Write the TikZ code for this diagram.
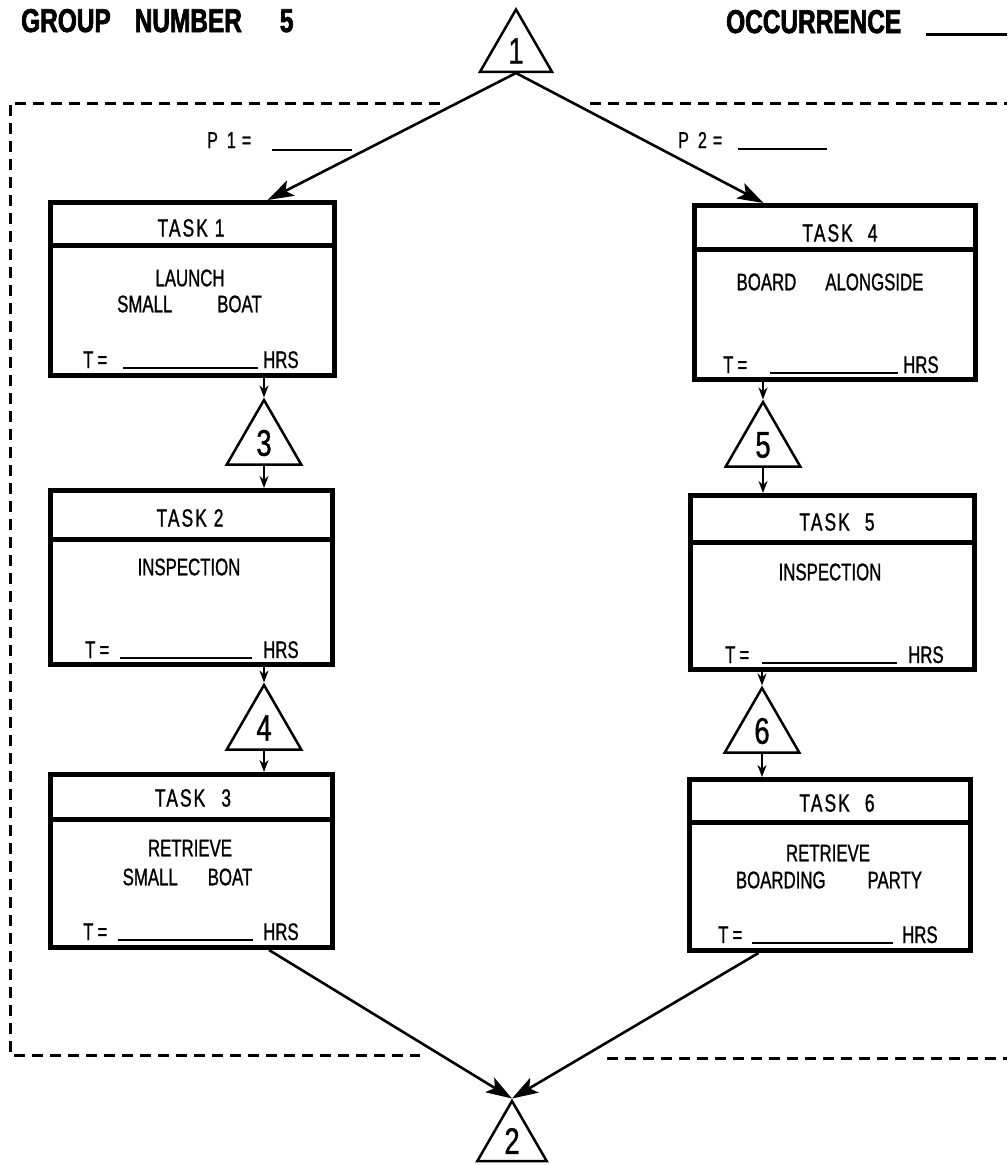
\documentclass[tikz,border=0pt]{standalone}
\usepackage{fontspec}
\usetikzlibrary{shapes.geometric,arrows.meta,calc}
\newfontfamily\condfont[FakeStretch=0.70,FakeBold=1]{Liberation Sans}
\newfontfamily\hdrfont[FakeStretch=0.70,FakeBold=1,LetterSpace=8]{Liberation Sans}
\newfontfamily\digfont[FakeStretch=0.74,FakeBold=1]{Liberation Sans}
\newfontfamily\titlefont[FakeStretch=0.74,FakeBold=2]{Liberation Sans}
\tikzset{
  taskbox/.style={draw, rectangle, line width=5pt, inner sep=0pt},
  divider/.style={line width=4.5pt},
  tri/.style={draw, regular polygon, regular polygon sides=3, line width=2.5pt, inner sep=0pt, minimum size=86pt, font=\digfont\fontsize{37}{37}\selectfont},
  conn/.style={line width=2.6pt, -{Stealth[length=26pt,width=17pt,inset=6pt]}},
  vconn/.style={line width=2.4pt, -{Stealth[length=12pt,width=9pt]}},
  dframe/.style={line width=3pt, dash pattern=on 11pt off 7pt},
  hdr/.style={font=\hdrfont\fontsize{25}{25}\selectfont, inner sep=0pt},
  body/.style={font=\condfont\fontsize{24}{24}\selectfont, inner sep=0pt},
  tl/.style={font=\condfont\fontsize{24}{24}\selectfont, inner sep=0pt, anchor=base west},
  ttl/.style={font=\titlefont\bfseries\fontsize{33}{33}\selectfont, inner sep=0pt, anchor=base west},
  uline/.style={line width=2pt}
}
\newcommand\tline[6]{%
  \node[tl] (#1T) at (#2,#6) {T\hspace{4pt}=};
  \draw[uline] (#3,#6) -- (#4,#6);
  \node[tl] (#1H) at (#5,#6) {HRS};}
\begin{document}
\begin{tikzpicture}[x=1pt,y=-1pt]
\useasboundingbox (0,0) rectangle (1007,1165);
\fill[white] (0,0) rectangle (1007,1165);

% titles
\node[ttl] (grp) at (21,32) {GROUP\hspace{24pt}NUMBER\hspace{38pt}5};
\node[ttl] (occ) at (726,33) {OCCURRENCE};
\draw[line width=3pt] (926,34) -- (1007,34);

% dashed frame
\draw[dframe] (440,103) -- (10,103) -- (10,1055) -- (420,1055);
\draw[dframe] (590,103) -- (1007,103);
\draw[dframe] (607,1058) -- (1007,1058);

% triangles
\node[tri, minimum size=83pt] (n1) at (516,51) {1};
\node[tri] (n3) at (264,443) {3};
\node[tri] (n4) at (264,728) {4};
\node[tri] (n5) at (763,445) {5};
\node[tri] (n6) at (762,731) {6};
\node[tri, minimum size=80pt] (n2) at (512,1141) {2};

% probabilities
\node[tl, font=\condfont\fontsize{23}{23}\selectfont] (p1) at (207,148) {P\hspace{9pt}1\hspace{6pt}=};
\draw[uline] (272,150) -- (352,150);
\node[tl, font=\condfont\fontsize{23}{23}\selectfont] (p2) at (678,148) {P\hspace{9pt}2\hspace{6pt}=};
\draw[uline] (738,149) -- (827,149);

% task boxes
\node[taskbox, minimum width=284pt, minimum height=173pt] (t1) at (192.5,289) {};
\draw[divider] ([yshift=-45.5pt]t1.north west) -- ([yshift=-45.5pt]t1.north east);
\node[hdr] (t1h) at (191,228) {TASK 1};
\node[body] (t1a) at (190,278) {LAUNCH};
\node[body] (t1b) at (189.5,304) {SMALL\hspace{45pt}BOAT};
\tline{t1}{83}{123}{258}{263}{368}

\node[taskbox, minimum width=282pt, minimum height=174pt] (t2) at (191.5,577.5) {};
\draw[divider] ([yshift=-51.5pt]t2.north west) -- ([yshift=-51.5pt]t2.north east);
\node[hdr] (t2h) at (190,518) {TASK 2};
\node[body] (t2a) at (189,567) {INSPECTION};
\tline{t2}{85}{120}{252}{263}{658}

\node[taskbox, minimum width=282pt, minimum height=173pt] (t3) at (191.5,861) {};
\draw[divider] ([yshift=-47.5pt]t3.north west) -- ([yshift=-47.5pt]t3.north east);
\node[hdr] (t3h) at (193,798) {TASK\hspace{16pt}3};
\node[body] (t3a) at (190,848) {RETRIEVE};
\node[body] (t3b) at (187.5,877) {SMALL\hspace{30pt}BOAT};
\tline{t3}{83}{118}{253}{263}{940}

\node[taskbox, minimum width=281pt, minimum height=174pt] (t4) at (835,292.5) {};
\draw[divider] ([yshift=-46.5pt]t4.north west) -- ([yshift=-46.5pt]t4.north east);
\node[hdr] (t4h) at (840,233) {TASK\hspace{15pt}4};
\node[body] (t4a) at (830,282) {BOARD\hspace{29pt}ALONGSIDE};
\tline{t4}{723}{770}{898}{903}{373}

\node[taskbox, minimum width=284pt, minimum height=174pt] (t5) at (832.5,582.5) {};
\draw[divider] ([yshift=-49.5pt]t5.north west) -- ([yshift=-49.5pt]t5.north east);
\node[hdr] (t5h) at (837,522) {TASK\hspace{15pt}5};
\node[body] (t5a) at (830,572) {INSPECTION};
\tline{t5}{725}{762}{897}{908}{663}

\node[taskbox, minimum width=281pt, minimum height=171pt] (t6) at (830,865) {};
\draw[divider] ([yshift=-45.5pt]t6.north west) -- ([yshift=-45.5pt]t6.north east);
\node[hdr] (t6h) at (837,803) {TASK\hspace{15pt}6};
\node[body] (t6a) at (828,853) {RETRIEVE};
\node[body] (t6b) at (829,880) {BOARDING\hspace{42pt}PARTY};
\tline{t6}{718}{752}{893}{902}{943}

% connectors
\draw[conn] (n1.south) -- ($(t1.north west)!0.76!(t1.north east)$);
\draw[conn] (n1.south) -- ($(t4.north west)!0.25!(t4.north east)$);
\draw[vconn] (n3.north |- t1.south) -- (n3.north);
\draw[vconn] (n3.south) -- (n3.south |- t2.north);
\draw[vconn] (n4.north |- t2.south) -- (n4.north);
\draw[vconn] (n4.south) -- (n4.south |- t3.north);
\draw[vconn] (n5.north |- t4.south) -- (n5.north);
\draw[vconn] (n5.south) -- (n5.south |- t5.north);
\draw[vconn] (n6.north |- t5.south) -- (n6.north);
\draw[vconn] (n6.south) -- (n6.south |- t6.north);
\draw[conn] ($(t3.south west)!0.77!(t3.south east)$) -- (n2.north);
\draw[conn] ($(t6.south west)!0.25!(t6.south east)$) -- (n2.north);
\end{tikzpicture}
\end{document}
